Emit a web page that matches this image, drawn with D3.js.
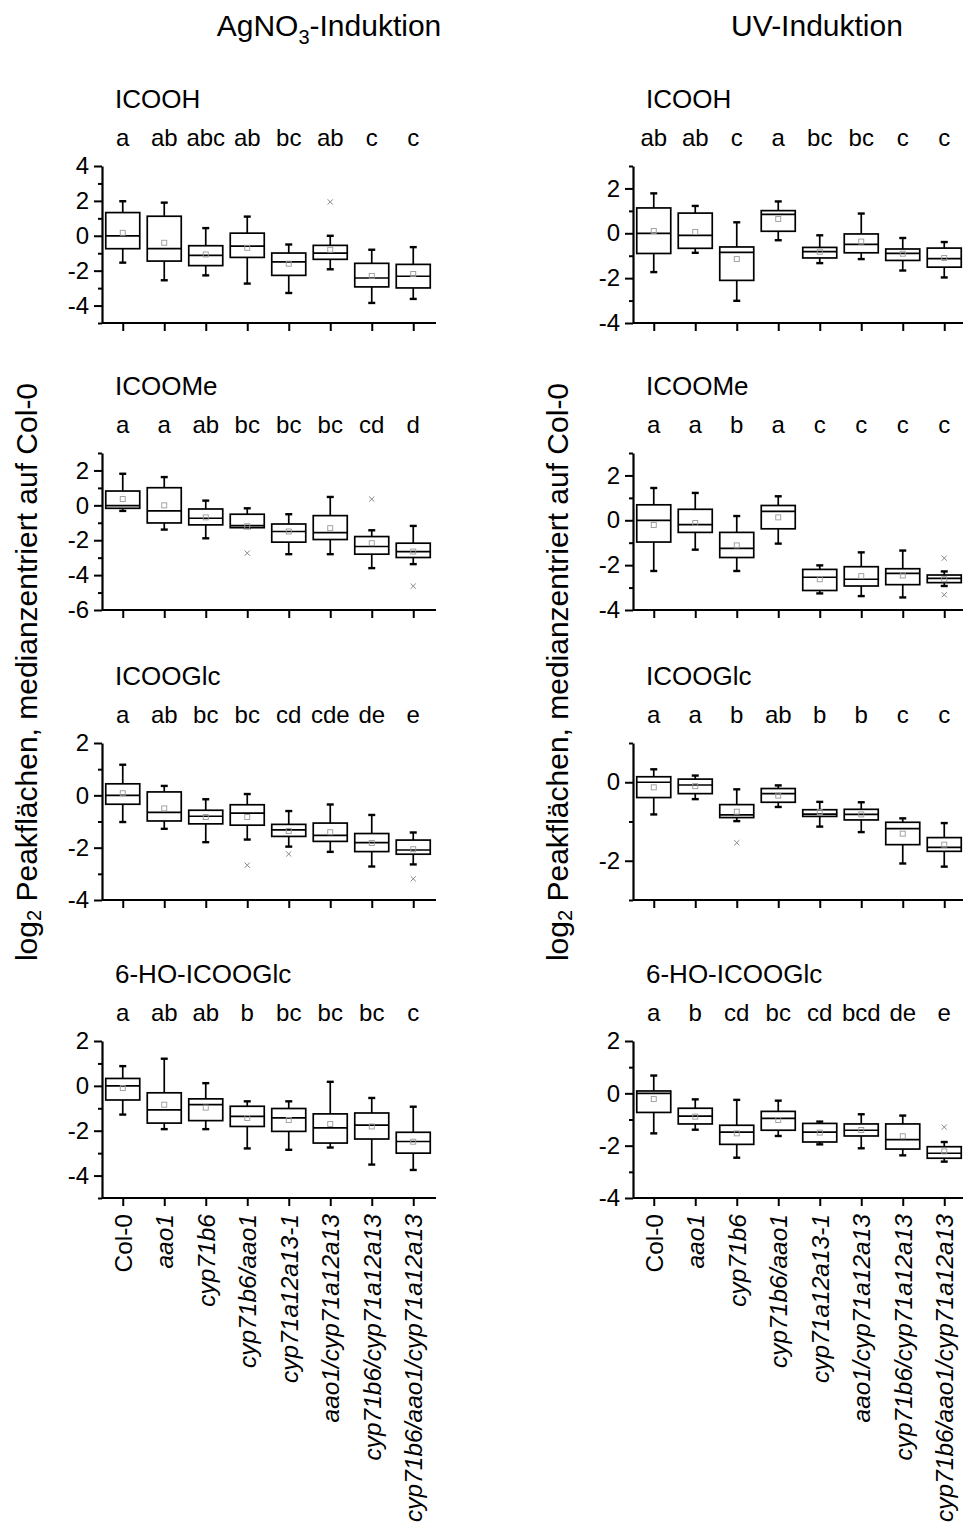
<!DOCTYPE html>
<html>
<head>
<meta charset="utf-8">
<script src="https://cdn.jsdelivr.net/npm/d3@7"></script>
<style>
  body { margin: 0; background: #fff; }
  text { font-family: "Liberation Sans", Arial, sans-serif; fill: #000; }
</style>
</head>
<body>
<svg id="chart" width="963" height="1528"></svg>
<script>
// Genotypes on the x axis (all but Col-0 are set in italics)
const genotypes = ["Col-0", "aao1", "cyp71b6", "cyp71b6/aao1", "cyp71a12a13-1",
  "aao1/cyp71a12a13", "cyp71b6/cyp71a12a13", "cyp71b6/aao1/cyp71a12a13"];

// Box statistics per genotype: [whisker low, Q1, median, Q3, whisker high, mean]
// AgNO3 induction
const agICOOH = [
  [-1.54, -0.74, 0.00, 1.33, 1.98, 0.17],
  [-2.55, -1.45, -0.74, 1.12, 1.90, -0.40],
  [-2.27, -1.71, -1.12, -0.57, 0.44, -1.07],
  [-2.74, -1.24, -0.59, 0.15, 1.10, -0.69],
  [-3.28, -2.27, -1.50, -0.99, -0.50, -1.60],
  [-1.92, -1.35, -0.99, -0.55, 0.00, -0.80],
  [-3.85, -2.93, -2.42, -1.58, -0.80, -2.30],
  [-3.62, -2.99, -2.32, -1.64, -0.65, -2.19]
];
const agICOOHLetters = ["a", "ab", "abc", "ab", "bc", "ab", "c", "c"];
const agICOOHOutliers = [[5, 1.94]];

const agICOOMe = [
  [-0.32, -0.17, -0.02, 0.82, 1.81, 0.36],
  [-1.39, -1.01, -0.32, 1.01, 1.62, 0.00],
  [-1.89, -1.12, -0.74, -0.21, 0.27, -0.69],
  [-1.30, -1.28, -1.16, -0.51, -0.17, -1.20],
  [-2.80, -2.11, -1.50, -1.07, -0.51, -1.50],
  [-2.80, -1.96, -1.56, -0.59, 0.48, -1.31],
  [-3.60, -2.80, -2.36, -1.79, -1.43, -2.17],
  [-3.37, -2.99, -2.65, -2.17, -1.18, -2.65]
];
const agICOOMeLetters = ["a", "a", "ab", "bc", "bc", "bc", "cd", "d"];
const agICOOMeOutliers = [[3, -2.74], [6, 0.36], [7, -4.63]];

const agICOOGlc = [
  [-1.02, -0.34, 0.00, 0.44, 1.17, 0.08],
  [-1.28, -0.98, -0.65, 0.13, 0.36, -0.50],
  [-1.79, -1.09, -0.80, -0.57, -0.15, -0.83],
  [-1.69, -1.14, -0.68, -0.36, 0.05, -0.83],
  [-1.96, -1.57, -1.32, -1.11, -0.60, -1.36],
  [-2.16, -1.76, -1.53, -1.06, -0.35, -1.41],
  [-2.72, -2.15, -1.81, -1.46, -0.75, -1.82],
  [-2.64, -2.25, -2.09, -1.71, -1.42, -2.06]
];
const agICOOGlcLetters = ["a", "ab", "bc", "bc", "cd", "cde", "de", "e"];
const agICOOGlcOutliers = [[3, -2.67], [4, -2.24], [7, -3.19]];

const agHOICOOGlc = [
  [-1.28, -0.63, 0.00, 0.33, 0.88, -0.10],
  [-1.93, -1.66, -1.07, -0.31, 1.21, -0.84],
  [-1.93, -1.55, -0.84, -0.58, 0.12, -0.97],
  [-2.79, -1.81, -1.36, -0.91, -0.69, -1.43],
  [-2.85, -2.03, -1.43, -1.01, -0.69, -1.52],
  [-2.75, -2.55, -1.87, -1.25, 0.18, -1.70],
  [-3.51, -2.37, -1.75, -1.21, -0.54, -1.81],
  [-3.75, -3.00, -2.48, -2.07, -0.93, -2.49]
];
const agHOICOOGlcLetters = ["a", "ab", "ab", "b", "bc", "bc", "bc", "c"];
const agHOICOOGlcOutliers = [];

// UV induction
const uvICOOH = [
  [-1.73, -0.90, 0.00, 1.13, 1.78, 0.10],
  [-0.87, -0.67, -0.09, 0.90, 1.22, 0.06],
  [-3.01, -2.10, -0.85, -0.61, 0.49, -1.15],
  [-0.31, 0.09, 0.84, 1.01, 1.42, 0.64],
  [-1.33, -1.10, -0.82, -0.63, -0.09, -0.82],
  [-1.15, -0.87, -0.49, -0.03, 0.88, -0.37],
  [-1.66, -1.21, -0.90, -0.70, -0.21, -0.91],
  [-1.97, -1.51, -1.13, -0.66, -0.39, -1.10]
];
const uvICOOHLetters = ["ab", "ab", "c", "a", "bc", "bc", "c", "c"];
const uvICOOHOutliers = [];

const uvICOOMe = [
  [-2.26, -0.97, 0.00, 0.69, 1.44, -0.21],
  [-1.31, -0.54, -0.19, 0.49, 1.22, -0.12],
  [-2.26, -1.66, -1.25, -0.54, 0.19, -1.12],
  [-1.04, -0.38, 0.40, 0.66, 1.07, 0.13],
  [-3.26, -3.13, -2.54, -2.19, -2.01, -2.63],
  [-3.38, -2.93, -2.63, -2.07, -1.43, -2.49],
  [-3.44, -2.87, -2.37, -2.16, -1.35, -2.46],
  [-2.93, -2.78, -2.59, -2.44, -2.28, -2.63]
];
const uvICOOMeLetters = ["a", "a", "b", "a", "c", "c", "c", "c"];
const uvICOOMeOutliers = [[7, -1.69], [7, -3.32]];

const uvICOOGlc = [
  [-0.82, -0.39, 0.00, 0.14, 0.33, -0.13],
  [-0.43, -0.29, -0.07, 0.08, 0.17, -0.10],
  [-0.99, -0.90, -0.83, -0.57, -0.18, -0.75],
  [-0.63, -0.51, -0.29, -0.16, -0.08, -0.34],
  [-1.13, -0.87, -0.81, -0.70, -0.50, -0.76],
  [-1.27, -0.96, -0.82, -0.69, -0.51, -0.82],
  [-2.07, -1.59, -1.18, -1.02, -0.92, -1.31],
  [-2.15, -1.76, -1.66, -1.41, -1.04, -1.59]
];
const uvICOOGlcLetters = ["a", "a", "b", "ab", "b", "b", "c", "c"];
const uvICOOGlcOutliers = [[2, -1.54]];

const uvHOICOOGlc = [
  [-1.53, -0.73, 0.00, 0.09, 0.68, -0.22],
  [-1.39, -1.17, -0.87, -0.57, -0.23, -0.89],
  [-2.46, -1.95, -1.48, -1.22, -0.25, -1.53],
  [-1.63, -1.41, -0.96, -0.69, -0.28, -1.02],
  [-1.95, -1.86, -1.48, -1.15, -1.08, -1.50],
  [-2.10, -1.63, -1.41, -1.17, -0.80, -1.40],
  [-2.37, -2.13, -1.77, -1.17, -0.85, -1.64],
  [-2.61, -2.48, -2.29, -2.04, -1.86, -2.22]
];
const uvHOICOOGlcLetters = ["a", "b", "cd", "bc", "cd", "bcd", "de", "e"];
const uvHOICOOGlcOutliers = [[7, -1.29]];

// Panel layout: column (0 = AgNO3, 1 = UV), row, y-axis domain
const panels = [
  { col: 0, row: 0, title: "ICOOH", domain: [-5, 4], stats: agICOOH, letters: agICOOHLetters, outliers: agICOOHOutliers },
  { col: 0, row: 1, title: "ICOOMe", domain: [-6, 3], stats: agICOOMe, letters: agICOOMeLetters, outliers: agICOOMeOutliers },
  { col: 0, row: 2, title: "ICOOGlc", domain: [-4, 2], stats: agICOOGlc, letters: agICOOGlcLetters, outliers: agICOOGlcOutliers },
  { col: 0, row: 3, title: "6-HO-ICOOGlc", domain: [-5, 2], stats: agHOICOOGlc, letters: agHOICOOGlcLetters, outliers: agHOICOOGlcOutliers },
  { col: 1, row: 0, title: "ICOOH", domain: [-4, 3], stats: uvICOOH, letters: uvICOOHLetters, outliers: uvICOOHOutliers },
  { col: 1, row: 1, title: "ICOOMe", domain: [-4, 3], stats: uvICOOMe, letters: uvICOOMeLetters, outliers: uvICOOMeOutliers },
  { col: 1, row: 2, title: "ICOOGlc", domain: [-3, 1], stats: uvICOOGlc, letters: uvICOOGlcLetters, outliers: uvICOOGlcOutliers },
  { col: 1, row: 3, title: "6-HO-ICOOGlc", domain: [-4, 2], stats: uvHOICOOGlc, letters: uvHOICOOGlcLetters, outliers: uvHOICOOGlcOutliers }
];

const svg = d3.select("#chart");

const colLeft = [102, 633];
const plotW = 332;
const plotH = 157;
const rowBottom = [323, 610, 900, 1198];
const boxW = 34;
const capW = 7;

// Column headings
const headAg = svg.append("text").attr("x", 329).attr("y", 36)
  .attr("text-anchor", "middle").style("font-size", "30px");
headAg.append("tspan").text("AgNO");
headAg.append("tspan").text("3").attr("dy", 8).style("font-size", "20px");
headAg.append("tspan").text("-Induktion").attr("dy", -8);

svg.append("text").attr("x", 817).attr("y", 36)
  .attr("text-anchor", "middle").style("font-size", "30px").text("UV-Induktion");

// Shared y-axis titles
[26, 557].forEach(cx => {
  const t = svg.append("text")
    .attr("transform", `translate(${cx},672) rotate(-90)`)
    .attr("text-anchor", "middle")
    .attr("dominant-baseline", "central")
    .style("font-size", "30px");
  t.append("tspan").text("log");
  t.append("tspan").text("2").attr("dy", 8).style("font-size", "20px");
  t.append("tspan").text(" Peakflächen, medianzentriert auf Col-0").attr("dy", -8);
});

panels.forEach(p => {
  const x0 = colLeft[p.col];
  const bottom = rowBottom[p.row];
  const top = bottom - plotH;
  const g = svg.append("g");

  const x = d3.scalePoint().domain(genotypes).range([x0, x0 + plotW]).padding(0.5);
  const y = d3.scaleLinear().domain(p.domain).range([bottom, top]);

  const allInts = d3.range(Math.ceil(p.domain[0]), Math.floor(p.domain[1]) + 1);
  const major = allInts.filter(v => v % 2 === 0);
  const minor = allInts.filter(v => v % 2 !== 0);

  // Minor y ticks
  const yMinor = g.append("g").attr("transform", `translate(${x0},0)`)
    .call(d3.axisLeft(y).tickValues(minor).tickSize(4).tickSizeOuter(0).tickFormat(""));
  yMinor.select(".domain").remove();
  yMinor.selectAll("line").attr("stroke", "#000").attr("stroke-width", 2);

  // Major y ticks with labels
  const yAxis = g.append("g").attr("transform", `translate(${x0},0)`)
    .call(d3.axisLeft(y).tickValues(major).tickSize(8).tickSizeOuter(0).tickPadding(5)
      .tickFormat(d => String(d)));
  yAxis.select(".domain").attr("stroke", "#000").attr("stroke-width", 2.2);
  yAxis.selectAll("line").attr("stroke", "#000").attr("stroke-width", 2);
  yAxis.selectAll("text").style("font-size", "24px").attr("fill", "#000")
    .style("font-family", "'Liberation Sans', Arial, sans-serif");

  // X axis
  const showLabels = p.row === 3;
  const xAxis = g.append("g").attr("transform", `translate(0,${bottom})`)
    .call(d3.axisBottom(x).tickSize(8).tickSizeOuter(0)
      .tickFormat(showLabels ? (d => d) : ""));
  xAxis.select(".domain").attr("stroke", "#000").attr("stroke-width", 2.2)
    .attr("d", `M${x0},0H${x0 + plotW + 2}`);
  xAxis.selectAll("line").attr("stroke", "#000").attr("stroke-width", 2);
  if (showLabels) {
    xAxis.selectAll("text")
      .attr("transform", "rotate(-90)")
      .attr("x", -16).attr("y", 0).attr("dy", "0.35em")
      .style("text-anchor", "end")
      .style("font-size", "24.5px")
      .style("font-family", "'Liberation Sans', Arial, sans-serif")
      .style("font-style", d => d === "Col-0" ? "normal" : "italic")
      .attr("fill", "#000");
  }

  // Panel title and significance letters
  g.append("text").attr("x", x0 + 13).attr("y", top - 58)
    .style("font-size", "26px").text(p.title);
  g.selectAll(".letter").data(p.letters).join("text")
    .attr("class", "letter")
    .attr("x", (d, i) => x(genotypes[i])).attr("y", top - 20)
    .attr("text-anchor", "middle").style("font-size", "24px").text(d => d);

  // Boxes
  const boxes = g.selectAll(".box").data(p.stats).join("g").attr("class", "box")
    .attr("transform", (d, i) => `translate(${x(genotypes[i])},0)`);

  boxes.append("line").attr("x1", 0).attr("x2", 0)
    .attr("y1", d => y(d[0])).attr("y2", d => y(d[1]))
    .attr("stroke", "#000").attr("stroke-width", 1.7);
  boxes.append("line").attr("x1", 0).attr("x2", 0)
    .attr("y1", d => y(d[3])).attr("y2", d => y(d[4]))
    .attr("stroke", "#000").attr("stroke-width", 1.7);
  boxes.append("line").attr("x1", -capW / 2).attr("x2", capW / 2)
    .attr("y1", d => y(d[0])).attr("y2", d => y(d[0]))
    .attr("stroke", "#000").attr("stroke-width", 2.4);
  boxes.append("line").attr("x1", -capW / 2).attr("x2", capW / 2)
    .attr("y1", d => y(d[4])).attr("y2", d => y(d[4]))
    .attr("stroke", "#000").attr("stroke-width", 2.4);
  boxes.append("rect").attr("x", -boxW / 2).attr("width", boxW)
    .attr("y", d => y(d[3])).attr("height", d => y(d[1]) - y(d[3]))
    .attr("fill", "#fff").attr("stroke", "#000").attr("stroke-width", 1.7);
  boxes.append("line").attr("x1", -boxW / 2).attr("x2", boxW / 2)
    .attr("y1", d => y(d[2])).attr("y2", d => y(d[2]))
    .attr("stroke", "#000").attr("stroke-width", 1.7);
  // Mean marker
  boxes.append("rect").attr("x", -2.5).attr("width", 5).attr("height", 5)
    .attr("y", d => y(d[5]) - 2.5)
    .attr("fill", "none").attr("stroke", "#999").attr("stroke-width", 0.9);

  // Outliers
  const s = 2.6;
  const outs = g.selectAll(".out").data(p.outliers).join("g").attr("class", "out")
    .attr("transform", d => `translate(${x(genotypes[d[0]])},${y(d[1])})`);
  outs.append("path").attr("d", `M${-s},${-s}L${s},${s}M${-s},${s}L${s},${-s}`)
    .attr("stroke", "#888").attr("stroke-width", 1);
});
</script>
</body>
</html>
